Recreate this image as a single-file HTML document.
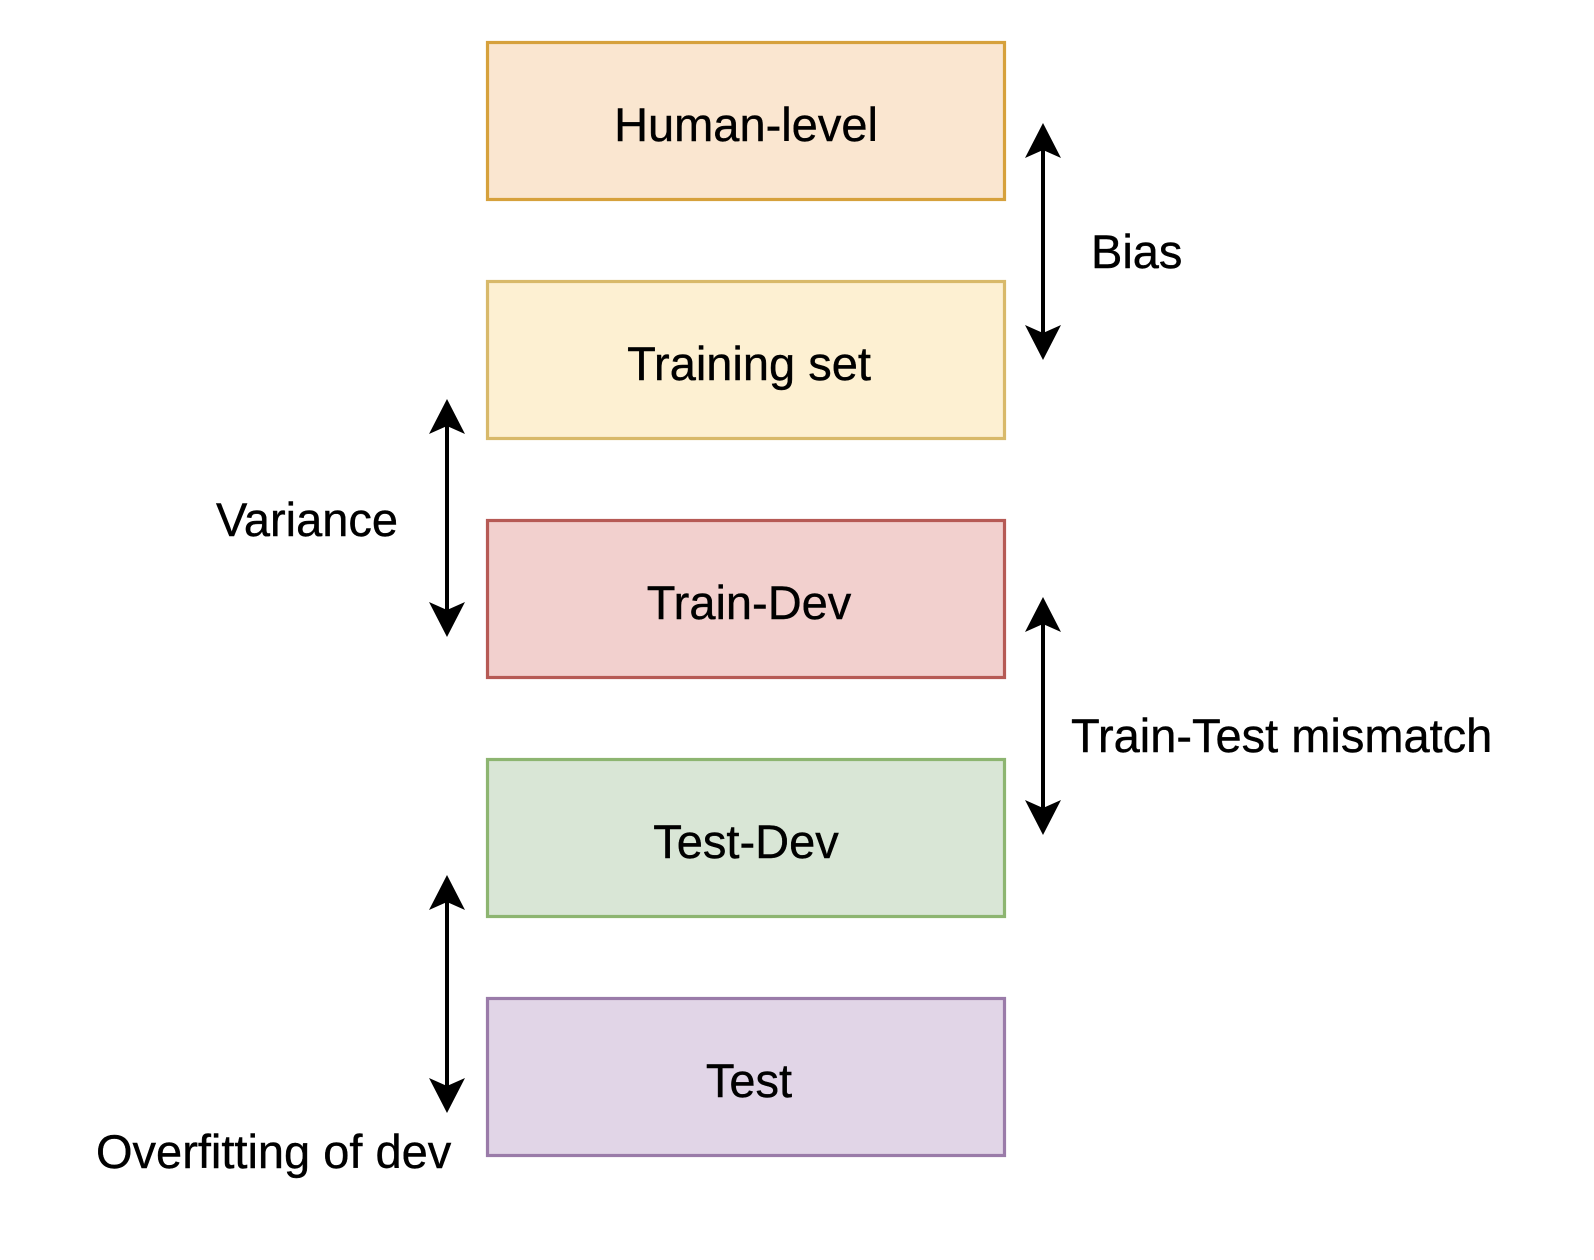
<!DOCTYPE html>
<html><head><meta charset="utf-8"><style>html,body{margin:0;padding:0;background:#fff}svg{display:block}</style></head>
<body>
<svg width="1594" height="1260" viewBox="0 0 1594 1260" xmlns="http://www.w3.org/2000/svg" font-family="'Liberation Sans', Arial, sans-serif" font-size="47">
<g stroke-width="3.2">
<rect x="487.5" y="42.5" width="517" height="157" fill="#fae6d0" stroke="#d6a13c"/>
<rect x="487.5" y="281.5" width="517" height="157" fill="#fdf0d2" stroke="#d8b96a"/>
<rect x="487.5" y="520.5" width="517" height="157" fill="#f2d0ce" stroke="#b65a55"/>
<rect x="487.5" y="759.5" width="517" height="157" fill="#d9e6d6" stroke="#8db571"/>
<rect x="487.5" y="998.5" width="517" height="157" fill="#e1d5e7" stroke="#9a7ba9"/>
</g>
<g text-anchor="middle" fill="#000" stroke="#000" stroke-width="0.4">
<text x="746" y="141">Human-level</text>
<text x="749" y="380">Training set</text>
<text x="749" y="619">Train-Dev</text>
<text x="746" y="858">Test-Dev</text>
<text x="749" y="1097">Test</text>
</g>
<g fill="#000" stroke="#000" stroke-width="0.4">
<text x="1091" y="268">Bias</text>
<text x="216" y="536">Variance</text>
<text x="1071" y="752">Train-Test mismatch</text>
<text x="96" y="1168">Overfitting of dev</text>
</g>
<g stroke="#000" stroke-width="4">
<line x1="1043" y1="140" x2="1043" y2="344"/>
<line x1="447" y1="416" x2="447" y2="620"/>
<line x1="1043" y1="614" x2="1043" y2="818"/>
<line x1="447" y1="892" x2="447" y2="1096"/>
</g>
<g fill="#000">
<path d="M1043 123 L1061 158 L1043 150 L1025 158 Z"/>
<path d="M1043 360 L1061 325 L1043 333 L1025 325 Z"/>
<path d="M447 399 L465 434 L447 426 L429 434 Z"/>
<path d="M447 637 L465 602 L447 610 L429 602 Z"/>
<path d="M1043 597 L1061 632 L1043 624 L1025 632 Z"/>
<path d="M1043 835 L1061 800 L1043 808 L1025 800 Z"/>
<path d="M447 875 L465 910 L447 902 L429 910 Z"/>
<path d="M447 1113 L465 1078 L447 1086 L429 1078 Z"/>
</g>
</svg>
</body></html>
